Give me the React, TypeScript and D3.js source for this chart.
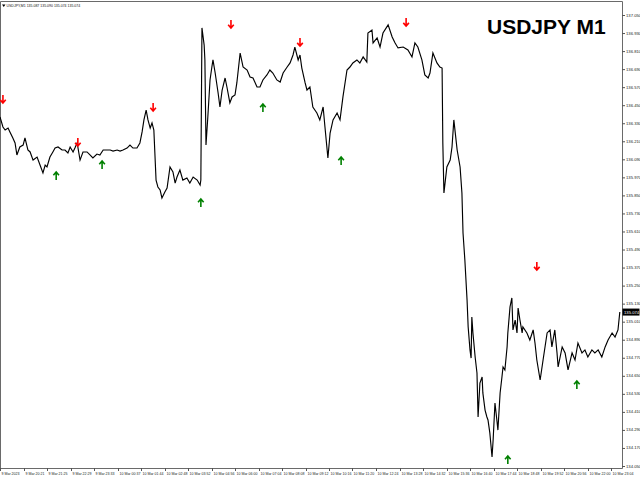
import * as d3 from 'd3';

// USDJPY M1 — closes, [minutes since first bar, price]
const bars: [number, number][] = [
  [0, 136.372], [8, 136.305], [14, 136.285], [22, 136.298], [27, 136.272], [35, 136.232], [41, 136.199], [46, 136.119],
  [54, 136.172], [63, 136.185], [68, 136.232], [76, 136.152], [82, 136.139], [90, 136.085], [101, 136.105], [109, 136.052],
  [117, 135.999], [123, 136.052], [128, 136.039], [136, 136.105], [144, 136.139], [150, 136.165], [158, 136.172], [169, 136.152],
  [177, 136.152], [185, 136.132], [191, 136.172], [199, 136.139], [204, 136.165], [210, 136.199], [212, 136.172], [218, 136.085],
  [226, 136.139], [237, 136.139], [245, 136.119], [253, 136.099], [264, 136.125], [272, 136.119], [281, 136.152], [291, 136.152],
  [300, 136.152], [308, 136.145], [319, 136.152], [327, 136.145], [335, 136.152], [346, 136.165], [354, 136.185], [362, 136.165],
  [373, 136.165], [381, 136.199], [387, 136.272], [392, 136.352], [398, 136.418], [403, 136.352], [409, 136.298], [414, 136.332],
  [419, 136.285], [425, 135.952], [430, 135.906], [436, 135.886], [441, 135.833], [449, 135.873], [455, 135.899], [463, 136.039],
  [471, 136.006], [477, 135.932], [482, 135.972], [490, 136.019], [498, 135.952], [509, 135.966], [517, 135.932], [526, 135.972],
  [537, 135.952], [545, 135.919], [547, 135.952], [550, 136.964], [556, 136.850], [558, 136.751], [561, 136.185], [566, 136.372],
  [572, 136.618], [577, 136.704], [580, 136.751], [586, 136.664], [594, 136.531], [599, 136.438], [605, 136.551], [613, 136.631],
  [618, 136.571], [626, 136.465], [632, 136.505], [640, 136.518], [645, 136.598], [654, 136.797], [662, 136.704], [673, 136.684],
  [681, 136.638], [689, 136.631], [700, 136.571], [708, 136.571], [716, 136.618], [727, 136.651], [735, 136.684], [743, 136.664],
  [754, 136.618], [763, 136.604], [771, 136.664], [782, 136.704], [790, 136.731], [798, 136.784], [803, 136.837], [812, 136.751],
  [817, 136.784], [822, 136.697], [831, 136.598], [836, 136.551], [844, 136.571], [852, 136.438], [863, 136.398], [871, 136.352],
  [880, 136.438], [885, 136.305], [893, 136.099], [899, 136.265], [907, 136.352], [918, 136.398], [926, 136.352], [934, 136.505],
  [945, 136.684], [953, 136.704], [961, 136.731], [972, 136.751], [980, 136.731], [989, 136.771], [999, 136.737], [1002, 136.930],
  [1013, 136.950], [1016, 136.864], [1027, 136.897], [1035, 136.837], [1043, 136.930], [1057, 136.984], [1068, 136.904], [1076, 136.864],
  [1084, 136.831], [1098, 136.837], [1111, 136.817], [1122, 136.771], [1130, 136.864], [1138, 136.837], [1149, 136.751], [1157, 136.651],
  [1166, 136.631], [1171, 136.664], [1179, 136.797], [1190, 136.731], [1198, 136.704], [1204, 136.697], [1206, 136.199], [1209, 135.866],
  [1217, 136.039], [1226, 136.085], [1231, 136.172], [1236, 136.352], [1245, 136.152], [1253, 136.039], [1258, 135.866], [1261, 135.600],
  [1266, 135.420], [1272, 135.154], [1275, 134.975], [1280, 134.822], [1283, 134.768], [1285, 135.041], [1288, 134.935], [1294, 134.775],
  [1299, 134.669], [1302, 134.376], [1307, 134.602], [1313, 134.642], [1315, 134.536], [1321, 134.422], [1326, 134.376], [1329, 134.356],
  [1334, 134.270], [1340, 134.110], [1343, 134.223], [1348, 134.469], [1354, 134.336], [1356, 134.289], [1362, 134.536], [1367, 134.642],
  [1370, 134.709], [1375, 134.689], [1381, 134.842], [1383, 134.935], [1389, 135.108], [1394, 135.168], [1397, 134.955], [1403, 135.021],
  [1408, 134.935], [1411, 135.101], [1416, 135.021], [1422, 134.935], [1424, 134.975], [1435, 134.935], [1443, 134.888], [1452, 134.955],
  [1457, 134.868], [1462, 134.755], [1471, 134.622], [1479, 134.755], [1490, 134.935], [1498, 134.955], [1503, 134.842], [1511, 134.955],
  [1517, 134.802], [1520, 134.709], [1531, 134.842], [1539, 134.802], [1547, 134.689], [1558, 134.802], [1566, 134.755], [1574, 134.868],
  [1585, 134.802], [1593, 134.822], [1601, 134.775], [1612, 134.822], [1620, 134.802], [1629, 134.822], [1639, 134.775], [1648, 134.842],
  [1656, 134.888], [1667, 134.935], [1675, 134.908], [1683, 134.955], [1688, 135.074],
];

// signal arrows [minute, price]
const sellSignals: [number, number][] = [
  [8, 136.491], [212, 136.205], [417, 136.438], [629, 136.990], [817, 136.870], [1106, 137.003], [1462, 135.380],
];
const buySignals: [number, number][] = [
  [153, 135.979], [278, 136.052], [547, 135.799], [716, 136.431], [929, 136.079], [1383, 134.090], [1571, 134.589],
];

const priceTicks = [
  137.05, 136.93, 136.81, 136.69, 136.57, 136.45, 136.33, 136.21, 136.09, 135.97, 135.85, 135.73, 135.61,
  135.49, 135.37, 135.25, 135.13, 135.01, 134.89, 134.77, 134.65, 134.53, 134.41, 134.29, 134.17, 134.05,
];

const timeLabels = [
  '9 Mar 2023', '9 Mar 20:21', '9 Mar 21:25', '9 Mar 22:29', '9 Mar 23:33', '10 Mar 00:37', '10 Mar 01:44',
  '10 Mar 02:48', '10 Mar 03:52', '10 Mar 04:56', '10 Mar 06:00', '10 Mar 07:04', '10 Mar 08:08', '10 Mar 09:12',
  '10 Mar 10:16', '10 Mar 11:20', '10 Mar 12:24', '10 Mar 13:28', '10 Mar 14:32', '10 Mar 15:36', '10 Mar 16:40',
  '10 Mar 17:44', '10 Mar 18:48', '10 Mar 19:52', '10 Mar 20:56', '10 Mar 22:00', '10 Mar 23:04',
];
const LABEL_STEP = 64; // minutes between time labels

const header = 'USDJPY,M1  135.087 135.090 135.074 135.074';
const lastPrice = 135.074;

const W = 640;
const H = 480;
const plotRight = 622;
const plotBottom = 468;
const FONT = '"Liberation Sans", Arial, sans-serif';

export default function App() {
  const x = d3.scaleLinear().domain([0, LABEL_STEP * (timeLabels.length - 1)]).range([0, 611]);
  const y = d3.scaleLinear().domain([134.05, 137.05]).range([466, 15]);

  const line = d3.line<[number, number]>()
    .x(d => x(d[0]))
    .y(d => y(d[1]));

  const downArrow = (cx: number, cy: number) =>
    `M${cx},${cy - 4}L${cx},${cy + 3.5}M${cx - 2.8},${cy + 0.8}L${cx},${cy + 4}L${cx + 2.8},${cy + 0.8}`;
  const upArrow = (cx: number, cy: number) =>
    `M${cx},${cy + 4}L${cx},${cy - 3.5}M${cx - 2.8},${cy - 0.8}L${cx},${cy - 4}L${cx + 2.8},${cy - 0.8}`;

  return (
    <div style={{ position: 'fixed', left: 0, top: 0, width: W, height: H, background: '#fff' }}>
      <svg width={W} height={H} style={{ display: 'block' }} fontFamily={FONT}>
        <rect x={0} y={0} width={W} height={H} fill="#fff" />

        {/* frame */}
        <path d={`M0.5,${plotBottom + 0.5}V1.5H${plotRight + 0.5}V${plotBottom + 0.5}H0.5`} fill="none" stroke="#6a6a6a" strokeWidth={1} />

        {/* price line */}
        <path d={line(bars) ?? ''} fill="none" stroke="#000" strokeWidth={1.15} strokeLinejoin="miter" />

        {/* signals */}
        {sellSignals.map((d, i) => (
          <path key={`s${i}`} d={downArrow(x(d[0]), y(d[1]))} fill="none" stroke="#ff0000" strokeWidth={1.6} />
        ))}
        {buySignals.map((d, i) => (
          <path key={`b${i}`} d={upArrow(x(d[0]), y(d[1]))} fill="none" stroke="#008000" strokeWidth={1.6} />
        ))}

        {/* price axis */}
        {priceTicks.map(p => (
          <g key={p} transform={`translate(${plotRight},${y(p)})`}>
            <line x1={0} x2={3} y1={0.5} y2={0.5} stroke="#555" />
            <text x={4} y={1.5} fontSize={4.2} fill="#222">{p.toFixed(3)}</text>
          </g>
        ))}
        <g transform={`translate(${plotRight},${y(lastPrice)})`}>
          <rect x={0.5} y={-3.5} width={17} height={7} fill="#000" />
          <text x={2} y={1.6} fontSize={4.2} fill="#fff">{lastPrice.toFixed(3)}</text>
        </g>

        {/* time axis */}
        {timeLabels.map((t, i) => {
          const tx = Math.round(x(i * LABEL_STEP)) + 0.5;
          return (
            <g key={t}>
              <line x1={tx} x2={tx} y1={plotBottom} y2={plotBottom + 3} stroke="#555" />
              <text x={tx + 1} y={plotBottom + 6.5} fontSize={3.55} fill="#222">{t}</text>
            </g>
          );
        })}

        {/* header */}
        <path d="M2,4.5H5.5L3.75,7Z" fill="#000" />
        <text x={6.5} y={7.3} fontSize={3.5} fill="#111">{header}</text>

        <text x={487} y={34} fontSize={21} fontWeight="bold" fill="#000">USDJPY M1</text>
      </svg>
    </div>
  );
}
